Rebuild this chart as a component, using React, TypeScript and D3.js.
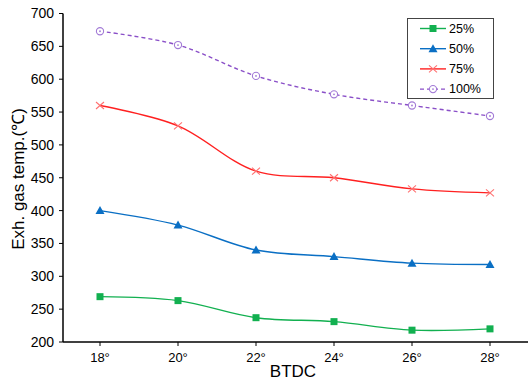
import React, { useEffect, useRef } from 'react';
import * as d3 from 'd3';

const CATEGORIES = ['18°', '20°', '22°', '24°', '26°', '28°'];
const Y_TICKS = [200, 250, 300, 350, 400, 450, 500, 550, 600, 650, 700];

const LOAD_25 = [269, 263, 237, 231, 218, 220];
const LOAD_50 = [400, 378, 340, 330, 320, 318];
const LOAD_75 = [560, 529, 460, 450, 433, 427];
const LOAD_100 = [673, 652, 605, 577, 560, 544];

const SERIES = [
  { name: '25%', values: LOAD_25, color: '#12b050', marker: 'square', dash: null },
  { name: '50%', values: LOAD_50, color: '#0a6fc4', marker: 'triangle', dash: null },
  { name: '75%', values: LOAD_75, color: '#ff2020', marker: 'cross', dash: null },
  { name: '100%', values: LOAD_100, color: '#8a4fc8', marker: 'circle', dash: '4,3' },
];

const FONT = '"Liberation Sans", Arial, sans-serif';

function drawMarker(g, type, x, y, color) {
  if (type === 'square') {
    g.append('rect')
      .attr('x', x - 3.5)
      .attr('y', y - 3.5)
      .attr('width', 7)
      .attr('height', 7)
      .attr('fill', color);
  } else if (type === 'triangle') {
    g.append('path')
      .attr('d', `M${x},${y - 4.5}L${x + 4.5},${y + 3.5}L${x - 4.5},${y + 3.5}Z`)
      .attr('fill', color);
  } else if (type === 'cross') {
    g.append('path')
      .attr('d', `M${x - 4},${y - 3.5}L${x + 4},${y + 3.5}M${x - 4},${y + 3.5}L${x + 4},${y - 3.5}`)
      .attr('stroke', '#ff7070')
      .attr('stroke-width', 1.1)
      .attr('fill', 'none');
  } else {
    g.append('circle')
      .attr('cx', x)
      .attr('cy', y)
      .attr('r', 3.6)
      .attr('fill', 'white')
      .attr('stroke', '#a27ad6')
      .attr('stroke-width', 1.1);
    g.append('circle')
      .attr('cx', x)
      .attr('cy', y)
      .attr('r', 0.9)
      .attr('fill', '#a27ad6');
  }
}

export default function App() {
  const svgRef = useRef(null);

  useEffect(() => {
    const svg = d3.select(svgRef.current);
    svg.selectAll('*').remove();

    const left = 63;
    const top = 13.5;
    const bottom = 342;

    const x = d3.scalePoint().domain(CATEGORIES).range([100, 490]);
    const y = d3.scaleLinear().domain([200, 700]).range([bottom, top]);

    // axes
    const axis = svg.append('g').attr('font-family', FONT);
    axis.append('line')
      .attr('x1', left).attr('x2', left)
      .attr('y1', top).attr('y2', bottom)
      .attr('stroke', '#000').attr('stroke-width', 1.5);
    axis.append('line')
      .attr('x1', left).attr('x2', 528)
      .attr('y1', bottom).attr('y2', bottom)
      .attr('stroke', '#000').attr('stroke-width', 1.5);

    Y_TICKS.forEach((t) => {
      axis.append('line')
        .attr('x1', left - 4).attr('x2', left)
        .attr('y1', y(t)).attr('y2', y(t))
        .attr('stroke', '#000');
      axis.append('text')
        .attr('x', left - 9)
        .attr('y', y(t))
        .attr('dy', '0.35em')
        .attr('text-anchor', 'end')
        .attr('font-size', 14)
        .text(t);
    });

    CATEGORIES.forEach((c) => {
      axis.append('line')
        .attr('x1', x(c)).attr('x2', x(c))
        .attr('y1', bottom).attr('y2', bottom + 4)
        .attr('stroke', '#000');
      axis.append('text')
        .attr('x', x(c))
        .attr('y', bottom + 20)
        .attr('text-anchor', 'middle')
        .attr('font-size', 13)
        .text(c);
    });

    axis.append('text')
      .attr('x', 293)
      .attr('y', 377)
      .attr('text-anchor', 'middle')
      .attr('font-size', 17)
      .text('BTDC');

    axis.append('text')
      .attr('transform', 'translate(24,179) rotate(-90)')
      .attr('text-anchor', 'middle')
      .attr('font-size', 17)
      .text('Exh. gas temp.(℃)');

    // lines
    const line = d3.line()
      .x((d, i) => x(CATEGORIES[i]))
      .y((d) => y(d))
      .curve(d3.curveCatmullRom.alpha(0.5));

    SERIES.forEach((s) => {
      svg.append('path')
        .datum(s.values)
        .attr('d', line)
        .attr('fill', 'none')
        .attr('stroke', s.color)
        .attr('stroke-width', 1.4)
        .attr('stroke-dasharray', s.dash);
      s.values.forEach((v, i) => {
        drawMarker(svg, s.marker, x(CATEGORIES[i]), y(v), s.color);
      });
    });

    // legend
    const legend = svg.append('g').attr('font-family', FONT);
    legend.append('rect')
      .attr('x', 407.5).attr('y', 18.5)
      .attr('width', 86).attr('height', 80)
      .attr('fill', 'white')
      .attr('stroke', '#444')
      .attr('stroke-width', 1);

    SERIES.forEach((s, i) => {
      const ly = 28.5 + i * 20.2;
      legend.append('line')
        .attr('x1', 420).attr('x2', 446)
        .attr('y1', ly).attr('y2', ly)
        .attr('stroke', s.color)
        .attr('stroke-width', 1.4)
        .attr('stroke-dasharray', s.dash);
      drawMarker(legend, s.marker, 433, ly, s.color);
      legend.append('text')
        .attr('x', 449)
        .attr('y', ly)
        .attr('dy', '0.35em')
        .attr('font-size', 12.5)
        .text(s.name);
    });
  }, []);

  return (
    <svg
      ref={svgRef}
      width={528}
      height={382}
      style={{ position: 'absolute', left: 0, top: 0, background: 'white' }}
    />
  );
}
